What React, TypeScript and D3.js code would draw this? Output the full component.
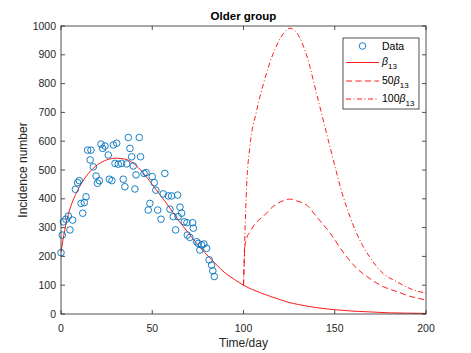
import React from "react";
import * as d3 from "d3";

// observed data (day, incidence)
const dataDays = [
  0, 0.7, 1.3, 2.7, 4, 4.9, 6.4, 7.9, 9.1, 10, 11, 11.9, 12.8, 13.7, 14.6, 16, 16.4, 17.7,
  19.2, 20, 21, 21.9, 22.8, 24.1, 25.9, 26.5, 27.9, 28.7, 29.6, 30.5, 31.4, 33.2, 34.1, 35,
  36, 36.9, 37.8, 38.7, 39.6, 40.5, 41.1, 42.9, 43.6, 45.5, 46.6, 47.8, 48.7, 50, 51.1, 52,
  53, 54.8, 56, 56.9, 58.8, 59.7, 60.6, 61.5, 62.8, 63.9, 64.2, 65.2, 66.1, 67.5, 69, 69.2,
  70.6, 72.1, 72.5, 74.3, 75.2, 76.1, 77, 78.3, 79.8, 81.2, 82.5, 83.2, 84,
];
const dataValues = [
  213, 274, 320, 329, 340, 292, 326, 433, 456, 463, 384, 350, 387, 407, 569, 535, 569, 511,
  479, 454, 463, 590, 575, 583, 552, 468, 463, 587, 523, 593, 520, 523, 468, 442,
  521, 613, 575, 546, 514, 434, 483, 613, 546, 488, 491, 361, 384, 477, 456, 430,
  361, 329, 417, 488, 410, 364, 410, 338, 292, 413, 338, 371, 350, 320, 317, 274,
  266, 317, 298, 251, 245, 222, 240, 243, 228, 188, 170, 150, 130,
];

// fitted curve, beta_13
const baseDays = [0, 2, 4, 6, 8, 10, 15, 20, 25, 30, 35, 40, 45, 50, 55, 60, 65, 70, 75, 80, 85, 90, 95, 100, 110, 120, 125, 130, 140, 150, 160, 170, 180, 190, 200];
const baseValues = [215, 290, 345, 385, 415, 440, 488, 518, 535, 541, 538, 522, 490, 450, 408, 365, 320, 280, 240, 205, 172, 142, 120, 100, 72, 50, 40, 33, 22, 15, 10, 7, 4, 3, 2];

// scenarios after day 100
const scenDays = [100, 100.8, 101.7, 103.5, 107, 111, 116, 122, 125.5, 129, 135, 140, 147, 155, 162, 169, 176.5, 184, 191, 200];
const beta50Values = [100, 234, 262, 285, 318, 340, 372, 394, 399, 393, 376, 338, 285, 211, 159, 124, 95, 78, 62, 49];
const beta100Values = [100, 280, 442, 581, 700, 801, 900, 975, 992, 978, 890, 766, 590, 400, 280, 199, 141, 112, 89, 72];

const xTicks = [0, 50, 100, 150, 200];
const yTicks = [0, 100, 200, 300, 400, 500, 600, 700, 800, 900, 1000];

const W = 471;
const H = 353;
const font = "'Liberation Sans', Arial, sans-serif";
const axisColor = "#262626";
const blue = "#0072BD";
const red = "#FF0000";

export default function App() {
  const x = d3.scaleLinear().domain([0, 200]).range([61, 426]);
  const y = d3.scaleLinear().domain([0, 1000]).range([314, 26]);
  const [x0, x1] = x.range();
  const [y0, y1] = y.range();

  const line = d3
    .line<[number, number]>()
    .x((d) => x(d[0]))
    .y((d) => y(d[1]))
    .curve(d3.curveMonotoneX);

  const base = line(baseDays.map((d, i) => [d, baseValues[i]]));
  const b50 = line(scenDays.map((d, i) => [d, beta50Values[i]]));
  const b100 = line(scenDays.map((d, i) => [d, beta100Values[i]]));

  const tl = 4;
  const lgX = 343;
  const lgY = 38;

  return (
    <svg width={W} height={H} style={{ position: "absolute", left: 0, top: 0, background: "#fff" }} fontFamily={font}>
      <rect x={0} y={0} width={W} height={H} fill="#fff" />

      {/* curves */}
      <path d={b100 ?? ""} fill="none" stroke={red} strokeWidth={0.9} strokeDasharray="5 2.5 1 2.5" />
      <path d={b50 ?? ""} fill="none" stroke={red} strokeWidth={0.9} strokeDasharray="6 3.5" />
      <path d={base ?? ""} fill="none" stroke={red} strokeWidth={0.9} />

      {/* data */}
      {dataDays.map((d, i) => (
        <circle key={i} cx={x(d)} cy={y(dataValues[i])} r={3.3} fill="none" stroke={blue} strokeWidth={0.9} />
      ))}

      {/* axes box */}
      <rect x={x0} y={y1} width={x1 - x0} height={y0 - y1} fill="none" stroke={axisColor} strokeWidth={0.8} />
      {xTicks.map((t) => (
        <g key={"x" + t}>
          <line x1={x(t)} x2={x(t)} y1={y0} y2={y0 - tl} stroke={axisColor} strokeWidth={0.8} />
          <line x1={x(t)} x2={x(t)} y1={y1} y2={y1 + tl} stroke={axisColor} strokeWidth={0.8} />
          <text x={x(t)} y={332} fontSize={10.5} textAnchor="middle" fill={axisColor}>
            {t}
          </text>
        </g>
      ))}
      {yTicks.map((t) => (
        <g key={"y" + t}>
          <line x1={x0} x2={x0 + tl} y1={y(t)} y2={y(t)} stroke={axisColor} strokeWidth={0.8} />
          <line x1={x1} x2={x1 - tl} y1={y(t)} y2={y(t)} stroke={axisColor} strokeWidth={0.8} />
          <text x={56} y={y(t)} dy="0.35em" fontSize={10.5} textAnchor="end" fill={axisColor}>
            {t}
          </text>
        </g>
      ))}

      {/* labels */}
      <text x={243.5} y={20} fontSize={11.5} fontWeight="bold" textAnchor="middle" fill="#000">
        Older group
      </text>
      <text x={243.5} y={347} fontSize={12} textAnchor="middle" fill={axisColor}>
        Time/day
      </text>
      <text transform="translate(27,170) rotate(-90)" fontSize={12} textAnchor="middle" fill={axisColor}>
        Incidence number
      </text>

      {/* legend */}
      <rect x={lgX} y={lgY} width={76} height={71} fill="#fff" stroke={axisColor} strokeWidth={0.8} />
      <circle cx={362.5} cy={46} r={3.3} fill="none" stroke={blue} strokeWidth={0.9} />
      <text x={382} y={50} fontSize={10.5} fill="#000">Data</text>

      <line x1={346} x2={379} y1={62.5} y2={62.5} stroke={red} strokeWidth={0.9} />
      <text x={382} y={65} fontSize={10.5} fill="#000">
        <tspan fontStyle="italic">β</tspan>
        <tspan fontSize={8} dy={4}>13</tspan>
      </text>

      <line x1={346} x2={379} y1={81} y2={81} stroke={red} strokeWidth={0.9} strokeDasharray="6 3.5" />
      <text x={382} y={83.5} fontSize={10.5} fill="#000">
        <tspan>50</tspan>
        <tspan fontStyle="italic">β</tspan>
        <tspan fontSize={8} dy={4}>13</tspan>
      </text>

      <line x1={346} x2={379} y1={99} y2={99} stroke={red} strokeWidth={0.9} strokeDasharray="5 2.5 1 2.5" />
      <text x={382} y={101.5} fontSize={10.5} fill="#000">
        <tspan>100</tspan>
        <tspan fontStyle="italic">β</tspan>
        <tspan fontSize={8} dy={4}>13</tspan>
      </text>
    </svg>
  );
}
